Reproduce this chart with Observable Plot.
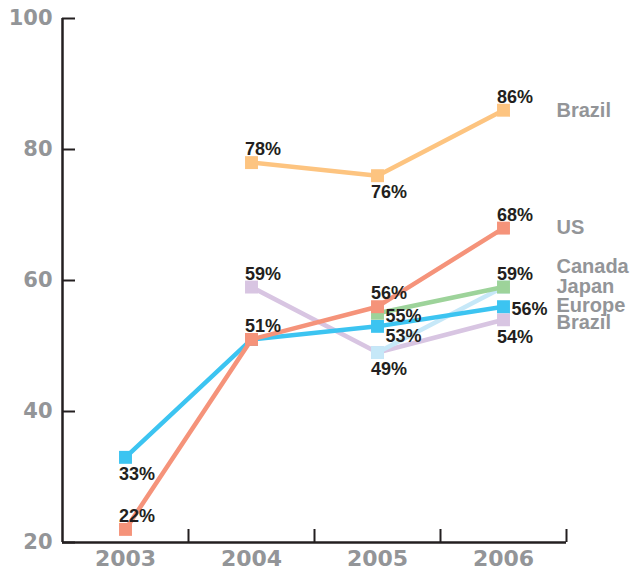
<!DOCTYPE html>
<html><head><meta charset="utf-8">
<script src="https://cdn.jsdelivr.net/npm/d3@7"></script>
<script src="https://cdn.jsdelivr.net/npm/@observablehq/plot@0.6"></script>
<style>body{margin:0;background:#fff} svg{display:block}</style>
</head><body><div id="chart"></div>
<script>
// ---- data ----
const years = [2003, 2004, 2005, 2006];
const seriesIds = ["brazilHigh", "us", "canada", "japan", "europe", "brazilLow"];
const seriesNames = ["Brazil", "US", "Canada", "Japan", "Europe", "Brazil"];
const brazilHighValues = [null, 78, 76, 86];
const usValues = [22, 51, 56, 68];
const canadaValues = [null, null, 55, 59];
const japanValues = [null, null, 49, 59];
const europeValues = [33, 51, 53, 56];
const brazilLowValues = [null, 59, 49, 54];
const yTicks = [20, 40, 60, 80, 100];
const xTickLabels = ["2003", "2004", "2005", "2006"];
// which points carry a value label
const labelledYears = {
  brazilHigh: [2004, 2005, 2006],
  us: [2003, 2004, 2005, 2006],
  canada: [2005, 2006],
  japan: [2005],
  europe: [2003, 2005, 2006],
  brazilLow: [2004, 2006]
};

// ---- layout / style ----
const colors = {brazilHigh: "#fdc480", us: "#f5937a", canada: "#9dd39a", japan: "#c6e8f8", europe: "#3cc4f1", brazilLow: "#d8c5e2"};
const drawOrder = ["brazilLow", "japan", "brazilHigh", "europe", "canada", "us"];
const labelSide = {
  "brazilHigh-2004": "above", "brazilHigh-2005": "below", "brazilHigh-2006": "above",
  "us-2003": "above", "us-2004": "above", "us-2005": "above", "us-2006": "above",
  "canada-2005": "right", "canada-2006": "above",
  "japan-2005": "below",
  "europe-2003": "below", "europe-2005": "rightBelow", "europe-2006": "right",
  "brazilLow-2004": "above", "brazilLow-2006": "below"
};
const sideOffsets = {
  above: {dx: -6.5, dy: -13},
  below: {dx: -6.5, dy: 17},
  right: {dx: 8, dy: 3},
  rightBelow: {dx: 8, dy: 10}
};
const nameOffsets = {brazilHigh: 0, us: -1, canada: -20, japan: 0, europe: -1, brazilLow: 3};

const valuesById = {
  brazilHigh: brazilHighValues, us: usValues, canada: canadaValues,
  japan: japanValues, europe: europeValues, brazilLow: brazilLowValues
};
const rows = [];
for (const id of seriesIds) {
  valuesById[id].forEach((v, i) => {
    if (v != null) rows.push({id, year: years[i], value: v});
  });
}
const labelRows = rows.filter(d => labelledYears[d.id].includes(d.year))
  .map(d => ({...d, side: labelSide[`${d.id}-${d.year}`]}));
const nameRows = seriesIds.map((id, i) => {
  const vals = valuesById[id];
  return {id, name: seriesNames[i], year: years[years.length - 1], value: vals[vals.length - 1]};
});

const gray = "#939598";
const ink = "#231f20";
const numFont = "DejaVu Sans";
const txtFont = "Liberation Sans, Arial, sans-serif";

const marks = [];
for (const id of drawOrder) {
  const data = rows.filter(d => d.id === id);
  marks.push(Plot.line(data, {x: "year", y: "value", stroke: colors[id], strokeWidth: 4.5}));
  marks.push(Plot.dot(data, {x: "year", y: "value", symbol: "square", r: 7.3, fill: colors[id], stroke: null}));
}
for (const side of Object.keys(sideOffsets)) {
  marks.push(Plot.text(labelRows.filter(d => d.side === side), {
    x: "year", y: "value", text: d => d.value + "%",
    textAnchor: "start", lineAnchor: "middle",
    dx: sideOffsets[side].dx, dy: sideOffsets[side].dy,
    fill: ink, fontSize: 18, fontWeight: "bold", fontFamily: txtFont
  }));
}
for (const row of nameRows) {
  marks.push(Plot.text([row], {
    x: "year", y: "value", text: "name",
    textAnchor: "start", lineAnchor: "middle", dx: 53, dy: nameOffsets[row.id],
    fill: gray, fontSize: 20, fontWeight: "bold", fontFamily: txtFont
  }));
}

const chart = Plot.plot({
  width: 636,
  height: 571,
  marginLeft: 62,
  marginRight: 70,
  marginTop: 18,
  marginBottom: 29,
  style: {background: "#fff", overflow: "visible"},
  x: {domain: [years[0] - 0.5, years[years.length - 1] + 0.5], axis: null},
  y: {domain: [yTicks[0], yTicks[yTicks.length - 1]], axis: null},
  marks: [
    Plot.axisY({ticks: yTicks, tickSize: 0, tickPadding: 10, tickFormat: d => String(d), label: null,
      fill: gray, fontSize: 21, fontWeight: "bold", fontFamily: numFont}),
    Plot.axisY({ticks: yTicks, tickSize: -13, tickFormat: () => "", label: null, stroke: ink, strokeWidth: 2}),
    Plot.axisX({ticks: years, tickSize: 0, tickPadding: 8, tickFormat: d => xTickLabels[years.indexOf(d)], label: null,
      fill: gray, fontSize: 22, fontWeight: "bold", fontFamily: numFont}),
    Plot.axisX({ticks: years.map(y => y + 0.5), tickSize: -13, tickFormat: () => "", label: null, stroke: ink, strokeWidth: 2}),
    Plot.ruleX([years[0] - 0.5], {stroke: ink, strokeWidth: 2.5}),
    Plot.ruleY([yTicks[0]], {stroke: ink, strokeWidth: 2.5}),
    ...marks
  ]
});
document.getElementById("chart").appendChild(chart);
</script>
</body></html>
